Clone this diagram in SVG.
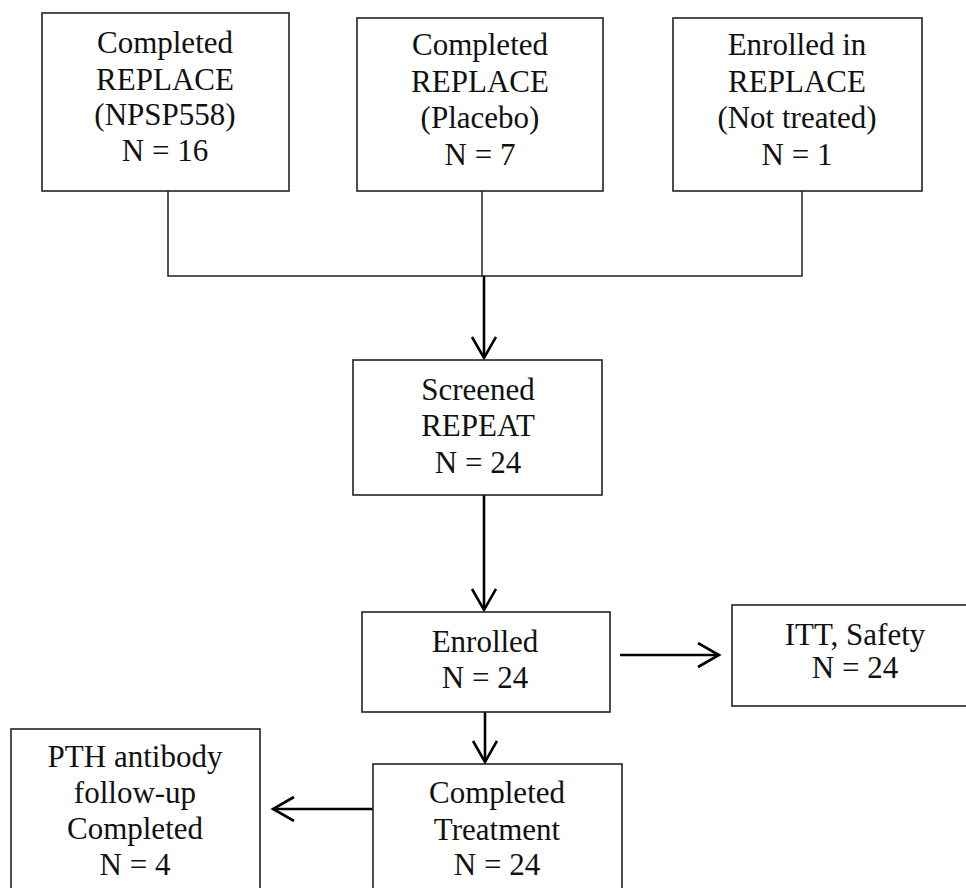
<svg xmlns="http://www.w3.org/2000/svg" width="966" height="888" viewBox="0 0 966 888">
  <style>
    .box { fill: #ffffff; stroke: #222222; stroke-width: 1.6; }
    .lbl { font-family: "Liberation Serif", "Times New Roman", serif; font-size: 31px; fill: #111111; text-anchor: middle; }
    .thin { fill: none; stroke: #222222; stroke-width: 1.5; }
    .arrow { fill: none; stroke: #000000; stroke-width: 2.6; marker-end: url(#vhead); }
  </style>
  <defs>
    <marker id="vhead" markerUnits="userSpaceOnUse" markerWidth="30" markerHeight="30" refX="22" refY="13" orient="auto">
      <path d="M1,1 L22,13 L1,25" fill="none" stroke="#000000" stroke-width="2.6"/>
    </marker>
  </defs>
  <rect width="966" height="888" fill="#ffffff"/>

  <g id="connectors">
    <path class="thin" d="M168,191 V276 H802 V191"/>
    <path class="thin" d="M482,191 V276"/>
    <path class="arrow" d="M484,276 V358"/>
    <path class="arrow" d="M484,495 V610"/>
    <path class="arrow" d="M620,655 H719"/>
    <path class="arrow" d="M485,712 V762"/>
    <path class="arrow" d="M373,809 H273"/>
  </g>

  <g id="replace-npsp558">
    <rect class="box" x="42" y="13" width="247" height="178"/>
    <text class="lbl" x="165" y="53">Completed</text>
    <text class="lbl" x="165" y="90">REPLACE</text>
    <text class="lbl" x="165" y="125">(NPSP558)</text>
    <text class="lbl" x="165" y="161">N = 16</text>
  </g>

  <g id="replace-placebo">
    <rect class="box" x="357" y="18" width="246" height="173"/>
    <text class="lbl" x="480" y="55">Completed</text>
    <text class="lbl" x="480" y="92">REPLACE</text>
    <text class="lbl" x="480" y="128">(Placebo)</text>
    <text class="lbl" x="480" y="165">N = 7</text>
  </g>

  <g id="replace-not-treated">
    <rect class="box" x="673" y="18" width="249" height="173"/>
    <text class="lbl" x="797" y="55">Enrolled in</text>
    <text class="lbl" x="797" y="92">REPLACE</text>
    <text class="lbl" x="797" y="128">(Not treated)</text>
    <text class="lbl" x="797" y="165">N = 1</text>
  </g>

  <g id="screened">
    <rect class="box" x="353" y="360" width="249" height="135"/>
    <text class="lbl" x="478" y="400">Screened</text>
    <text class="lbl" x="478" y="436">REPEAT</text>
    <text class="lbl" x="478" y="473">N = 24</text>
  </g>

  <g id="enrolled">
    <rect class="box" x="362" y="612" width="248" height="100"/>
    <text class="lbl" x="485" y="652">Enrolled</text>
    <text class="lbl" x="485" y="688">N = 24</text>
  </g>

  <g id="itt-safety">
    <rect class="box" x="732" y="605" width="250" height="101"/>
    <text class="lbl" x="855" y="645">ITT, Safety</text>
    <text class="lbl" x="855" y="678">N = 24</text>
  </g>

  <g id="completed-treatment">
    <rect class="box" x="373" y="764" width="249" height="140"/>
    <text class="lbl" x="497" y="803">Completed</text>
    <text class="lbl" x="497" y="840">Treatment</text>
    <text class="lbl" x="497" y="875">N = 24</text>
  </g>

  <g id="pth-followup">
    <rect class="box" x="11" y="729" width="249" height="175"/>
    <text class="lbl" x="135" y="767">PTH antibody</text>
    <text class="lbl" x="135" y="803">follow-up</text>
    <text class="lbl" x="135" y="839">Completed</text>
    <text class="lbl" x="135" y="875">N = 4</text>
  </g>
</svg>
